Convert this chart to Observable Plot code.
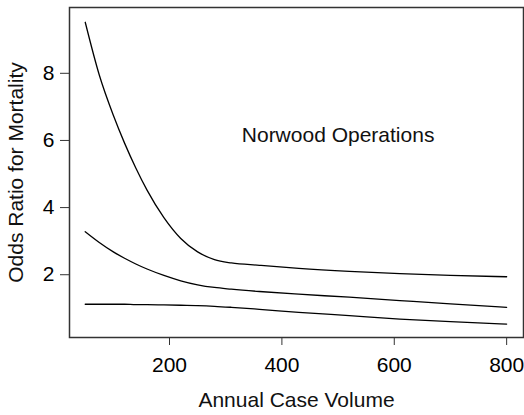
<!DOCTYPE html>
<html>
<head>
<meta charset="utf-8">
<script src="https://cdn.jsdelivr.net/npm/d3@7"></script>
<script src="https://cdn.jsdelivr.net/npm/@observablehq/plot@0.6"></script>
<style>
  html, body { margin: 0; padding: 0; background: #fff; }
  #chart { width: 524px; height: 415px; }
</style>
</head>
<body>
<div id="chart"></div>
<script>
// Data
const volumes = [50, 75, 100, 120, 140, 160, 190, 220, 250, 280, 310, 360, 430, 520, 610, 700, 800];
const upperOR = [9.52, 7.95, 6.75, 5.92, 5.18, 4.52, 3.70, 3.08, 2.68, 2.45, 2.35, 2.28, 2.19, 2.10, 2.03, 1.98, 1.94];
const middleOR = [3.28, 2.96, 2.68, 2.49, 2.32, 2.17, 1.98, 1.82, 1.70, 1.62, 1.57, 1.50, 1.42, 1.33, 1.23, 1.13, 1.03];
const lowerOR = [1.12, 1.12, 1.12, 1.12, 1.11, 1.11, 1.10, 1.09, 1.08, 1.06, 1.03, 0.97, 0.88, 0.78, 0.68, 0.60, 0.53];
const xTicks = [200, 400, 600, 800];
const yTicks = [2, 4, 6, 8];
const xLabel = "Annual Case Volume";
const yLabel = "Odds Ratio for Mortality";
const annotation = {text: "Norwood Operations", x: 500, y: 6.15};

const series = [
  {name: "upper", values: upperOR},
  {name: "middle", values: middleOR},
  {name: "lower", values: lowerOR}
];
const rows = series.flatMap(s => volumes.map((v, i) => ({series: s.name, volume: v, or: s.values[i]})));

const chart = Plot.plot({
  width: 524,
  height: 415,
  marginLeft: 69,
  marginRight: 1,
  marginTop: 7,
  marginBottom: 78,
  style: {fontFamily: "'Liberation Sans', Arial, Helvetica, sans-serif", fontSize: "21px", background: "#fff", color: "#000"},
  x: {domain: [22, 830]},
  y: {domain: [0.13, 9.96]},
  marks: [
    Plot.frame({stroke: "#333", strokeWidth: 1.5}),
    Plot.axisX({ticks: xTicks, tickSize: 8, tickPadding: 12, label: null, fontSize: 21, stroke: "#333"}),
    Plot.axisY({ticks: yTicks, tickSize: 9, tickPadding: 6, label: null, fontSize: 21, stroke: "#333"}),
    Plot.line(rows, {x: "volume", y: "or", z: "series", stroke: "#000", strokeWidth: 1.3, curve: "monotone-x"}),
    Plot.text([annotation], {x: "x", y: "y", text: "text", fontSize: 21, fill: "#111"}),
    Plot.text([xLabel], {frameAnchor: "bottom", dy: 63, textAnchor: "middle", lineAnchor: "middle", text: d => d, fontSize: 21, fill: "#111"}),
    Plot.text([yLabel], {frameAnchor: "left", dx: -53, rotate: -90, textAnchor: "middle", lineAnchor: "middle", text: d => d, fontSize: 21, fill: "#111"})
  ]
});
document.getElementById("chart").appendChild(chart);
</script>
</body>
</html>
